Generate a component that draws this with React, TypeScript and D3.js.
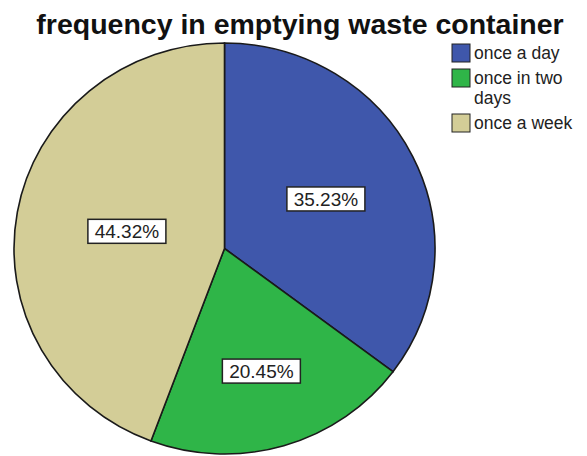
import React from "react";
import * as d3 from "d3";

const categories = ["once a day", "once in two days", "once a week"];
const percents = [35.23, 20.45, 44.32];
const colors = ["#3F57AB", "#2FB548", "#D3CD97"];
const legendLines = [["once a day"], ["once in two", "days"], ["once a week"]];
const title = "frequency in emptying waste container";

const W = 587;
const H = 456;
const cx = 224.5;
const cy = 248.5;
const rx = 210.5;
const ry = 205.5;

export default function App() {
  const pie = d3
    .pie<number>()
    .sort(null)
    .value((d) => d);
  const arcs = pie(percents);
  const arcGen = d3
    .arc<d3.PieArcDatum<number>>()
    .innerRadius(0)
    .outerRadius(rx);

  const font = "'Liberation Sans', Arial, sans-serif";

  // label position: centroid of the circular sector
  const labelPos = (a: d3.PieArcDatum<number>) => {
    const span = a.endAngle - a.startAngle;
    const mid = (a.startAngle + a.endAngle) / 2;
    const dist = (4 * Math.sin(span / 2)) / (3 * span);
    return [cx + Math.sin(mid) * dist * rx, cy - Math.cos(mid) * dist * ry];
  };

  return (
    <svg
      width={W}
      height={H}
      style={{ position: "absolute", left: 0, top: 0, background: "#fff" }}
    >
      <text
        x={300}
        y={34}
        textAnchor="middle"
        fontFamily={font}
        fontWeight="bold"
        fontSize={28.5}
        fill="#111"
      >
        {title}
      </text>
      <g transform={`translate(${cx},${cy}) scale(1,${ry / rx})`}>
        {arcs.map((a, i) => (
          <path
            key={categories[i]}
            d={arcGen(a) || ""}
            fill={colors[i]}
            stroke="#1a1a1a"
            strokeWidth={1.6}
          />
        ))}
      </g>
      {arcs.map((a, i) => {
        const [x, y] = labelPos(a);
        return (
          <g key={"l" + i} transform={`translate(${x},${y})`}>
            <rect
              x={-39}
              y={-12}
              width={78}
              height={24}
              fill="#fff"
              stroke="#222"
              strokeWidth={1.5}
            />
            <text
              x={0}
              y={7}
              textAnchor="middle"
              fontFamily={font}
              fontSize={19}
              fill="#222"
            >
              {percents[i].toFixed(2)}%
            </text>
          </g>
        );
      })}
      {legendLines.map((lines, i) => {
        const top = [44, 69, 114][i];
        return (
          <g key={"lg" + i}>
            <rect
              x={452}
              y={top}
              width={18}
              height={18}
              fill={colors[i]}
              stroke="#222"
              strokeWidth={1}
            />
            {lines.map((t, j) => (
              <text
                key={j}
                x={474}
                y={top + 15 + j * 20}
                fontFamily={font}
                fontSize={17.5}
                fill="#222"
              >
                {t}
              </text>
            ))}
          </g>
        );
      })}
    </svg>
  );
}
